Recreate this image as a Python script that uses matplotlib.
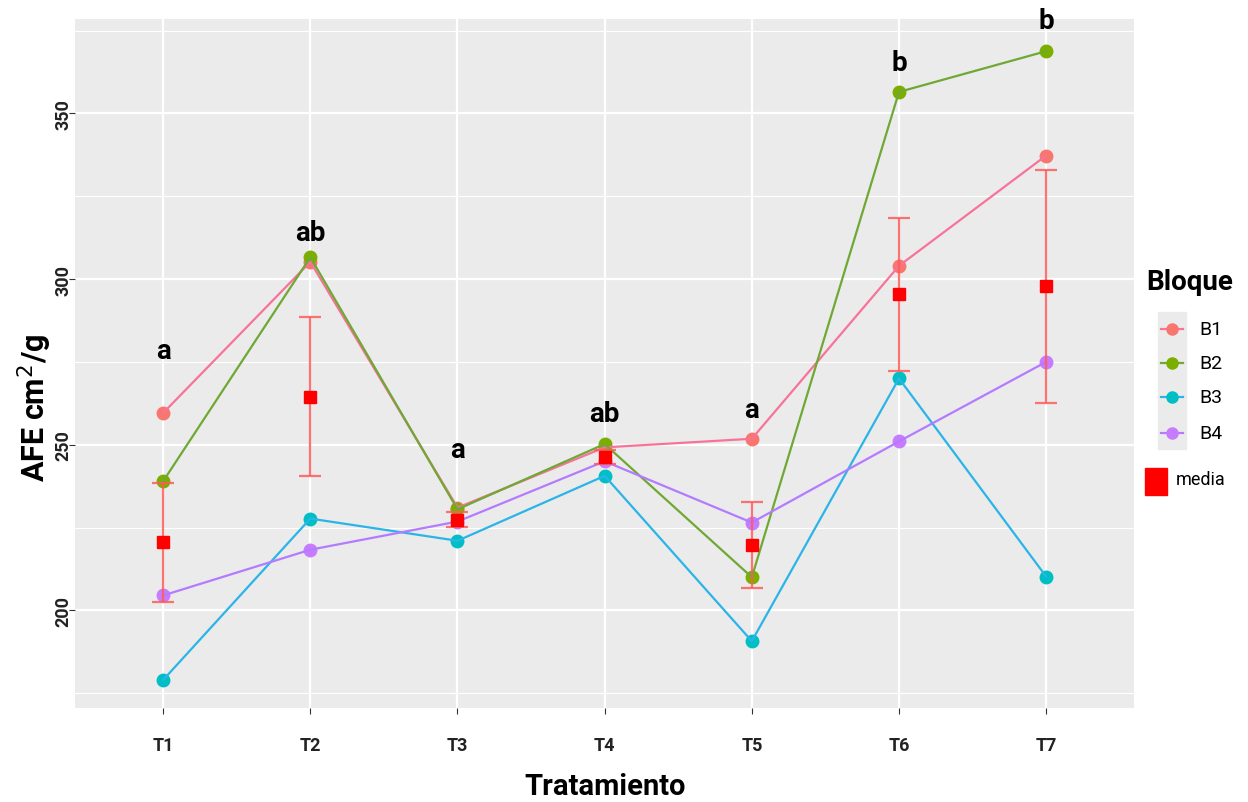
"""AFE per treatment and block, with mean +/- SE per treatment."""

import numpy as np
import matplotlib.pyplot as plt
from matplotlib.ticker import MultipleLocator

plt.rcParams["font.family"] = ["Roboto", "DejaVu Sans"]

treatments = ["T1", "T2", "T3", "T4", "T5", "T6", "T7"]
blocks = ["B1", "B2", "B3", "B4"]

b1 = [259.6, 305.2, 231.0, 249.2, 251.8, 304.0, 337.3]
b2 = [239.0, 306.6, 230.5, 250.2, 210.0, 356.5, 368.8]
b3 = [179.0, 227.7, 221.0, 240.6, 190.7, 270.0, 210.2]
b4 = [204.5, 218.3, 226.8, 245.0, 226.5, 251.0, 275.0]

letters = ["a", "ab", "a", "ab", "a", "b", "b"]
letter_y = [278.5, 314.0, 248.5, 259.5, 260.5, 365.5, 378.0]

point_colors = ["#F8766D", "#7CAE00", "#00BFC4", "#C77CFF"]
line_colors = ["#F7739A", "#6FA834", "#2BB4E8", "#B47BFF"]

values = np.array([b1, b2, b3, b4])
means = values.mean(axis=0)
se = values.std(axis=0, ddof=1) / np.sqrt(values.shape[0])

fig = plt.figure(figsize=(12.48, 8.03), dpi=100)
ax = fig.add_axes([0.060, 0.117, 0.849, 0.858])
ax.set_facecolor("#EBEBEB")
for s in ax.spines.values():
    s.set_visible(False)

x = np.arange(1, len(treatments) + 1)
for row, pc, lc in zip(values, point_colors, line_colors):
    ax.plot(x, row, "o", color=pc, markersize=9, zorder=3)
    ax.plot(x, row, "-", color=lc, linewidth=1.6, zorder=4)

ax.errorbar(x, means, yerr=se, fmt="none", ecolor="#FF5A5A", alpha=0.85,
            elinewidth=1.6, capsize=8, capthick=1.6, zorder=5)
ax.plot(x, means, "s", color="#FF0000", markersize=9, zorder=6)

for xi, lab, ly in zip(x, letters, letter_y):
    ax.text(xi, ly, lab, ha="center", va="center", fontsize=20,
            fontweight="bold", color="black", zorder=7)

ax.set_xlim(0.4, 7.6)
ax.set_ylim(170.5, 378.5)
ax.set_xticks(x)
ax.set_xticklabels(treatments)
ax.yaxis.set_major_locator(MultipleLocator(50))
ax.yaxis.set_minor_locator(MultipleLocator(25))
ax.grid(which="major", color="white", linewidth=1.6)
ax.grid(which="minor", axis="y", color="white", linewidth=0.8)
ax.set_axisbelow(True)
ax.tick_params(axis="both", which="major", length=4, color="#333333",
               labelsize=13, labelcolor="#222222")
ax.tick_params(axis="y", which="minor", length=0)
ax.tick_params(axis="x", pad=16)
ax.tick_params(axis="y", pad=4)
for t in ax.get_xticklabels():
    t.set_fontweight("bold")
for t in ax.get_yticklabels():
    t.set_rotation(90)
    t.set_va("center")
    t.set_ha("center")
    t.set_fontweight("bold")

ax.set_xlabel("Tratamiento", fontsize=21, fontweight="bold", va="center")
ax.xaxis.set_label_coords(0.5, -0.113)
ax.set_ylabel("AFE cm$^2$/g", fontsize=22, fontweight="bold", va="center")
ax.yaxis.set_label_coords(-0.038, 0.437)

# legend drawn by hand in pixel coordinates
leg = fig.add_axes([1140 / 1248, 0, 108 / 1248, 1])
leg.set_xlim(1140, 1248)
leg.set_ylim(803, 0)
leg.axis("off")
leg.text(1146, 283, "Bloque", fontsize=20, fontweight="bold", va="center", ha="left")
leg.add_patch(plt.Rectangle((1158, 313), 28, 137, color="#EBEBEB", zorder=1))
key_y = [330, 364, 398, 434]
for ky, name, pc, lc in zip(key_y, blocks, point_colors, line_colors):
    leg.plot([1161, 1183], [ky, ky], color=lc, linewidth=1.6, zorder=2)
    leg.plot([1172], [ky], "o", color=pc, markersize=8, zorder=3)
    leg.text(1199, ky, name, fontsize=14, va="center", ha="left")
leg.add_patch(plt.Rectangle((1145, 469), 22, 27, color="#FF0000", zorder=2))
leg.text(1176, 480, "media", fontsize=13, va="center", ha="left")

fig.savefig("out.png", dpi=100)
